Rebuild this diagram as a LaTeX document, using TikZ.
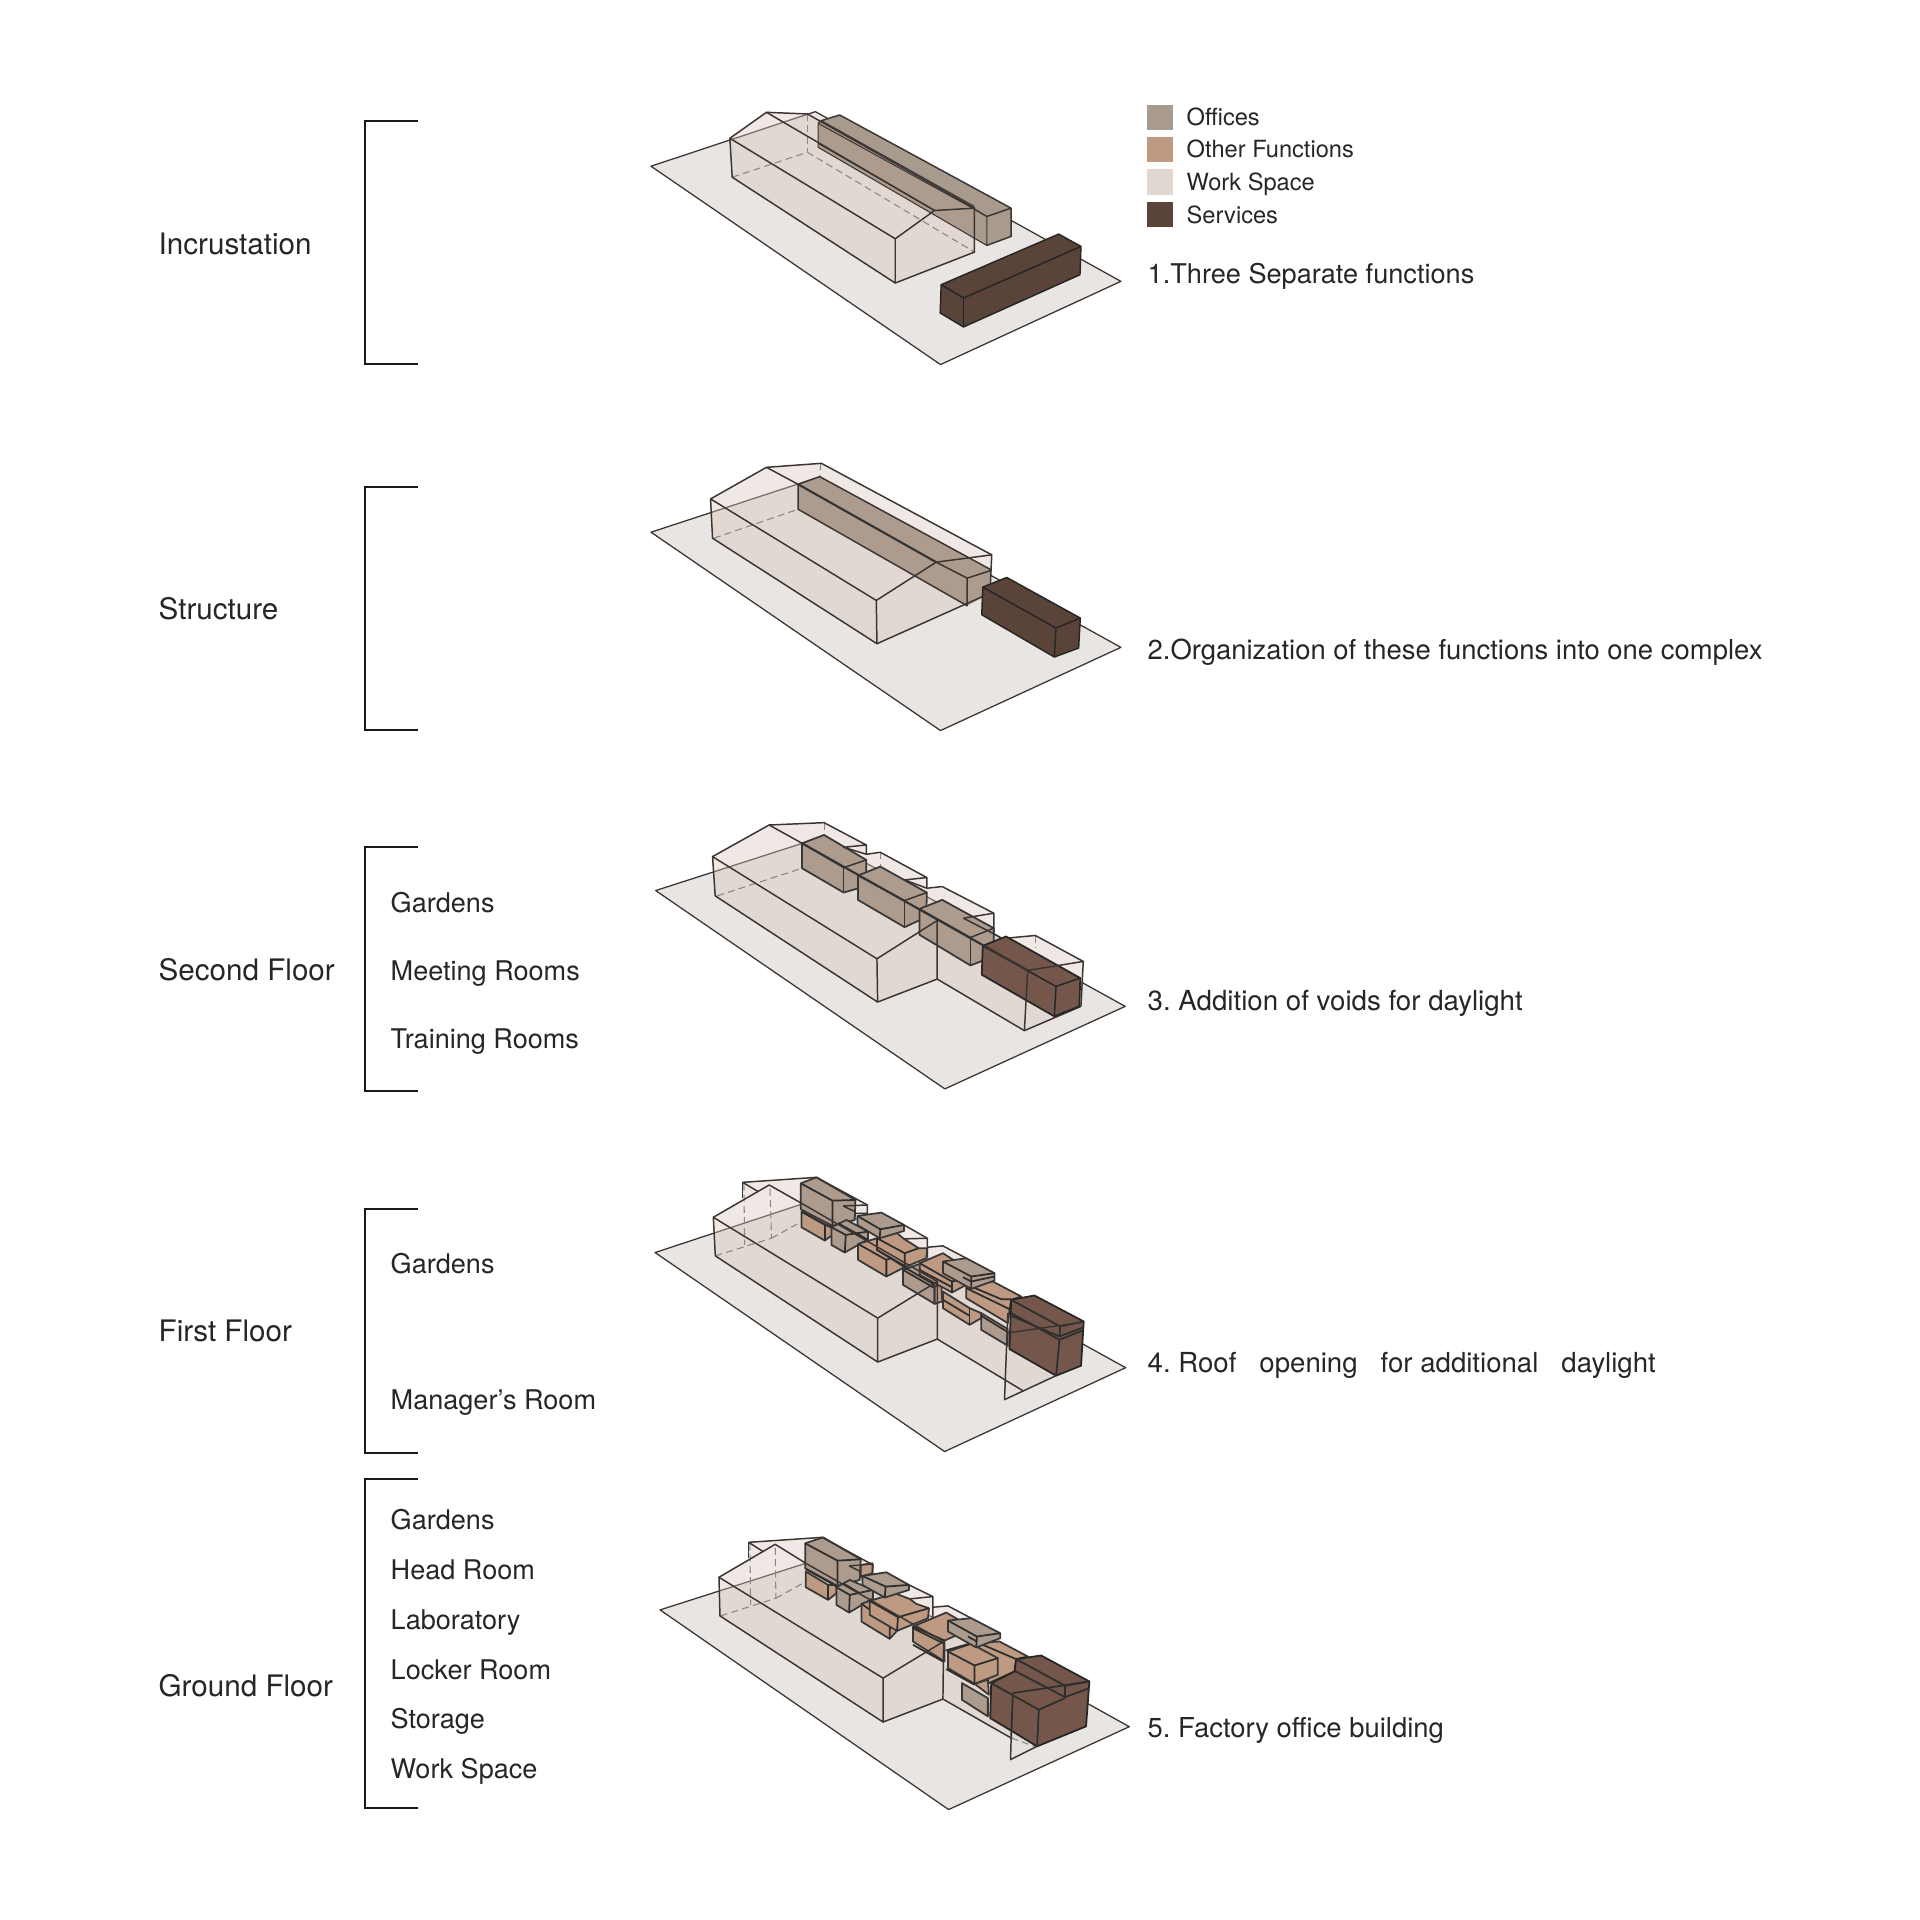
\documentclass[tikz,border=0pt]{standalone}
\usepackage{fontspec}
\setmainfont{TeX Gyre Heros}
\frenchspacing
\definecolor{ln}{HTML}{3A3533}
\definecolor{grd}{HTML}{E8E5E2}
\definecolor{wsp}{HTML}{D7C5BB}
\definecolor{wkey}{HTML}{E0D7D1}
\definecolor{ofc}{HTML}{A89B8E}
\definecolor{ofw}{HTML}{AD9B8D}
\definecolor{oth}{HTML}{BE9A82}
\definecolor{svc}{HTML}{5A4339}
\definecolor{svw}{HTML}{74574A}
\definecolor{txt}{HTML}{262626}
\tikzset{
  gnd/.style={fill=grd,draw=ln,line width=.36pt,line join=round},
  env/.style={fill=wsp,fill opacity=.4,draw=none},
  edge/.style={draw=ln,line width=.42pt,line join=round},
  fine/.style={draw=ln,line width=.3pt,line join=round},
  dk/.style={draw=black!82,line width=.5pt,line join=round},
  hid/.style={draw=ln!60,line width=.3pt,dashed,dash pattern=on 2pt off 1.2pt},
  heavy/.style={draw=black!80,line width=.6pt},
  ofb/.style={fill=ofw,draw=black!78,line width=.5pt,line join=round},
  otb/.style={fill=oth,draw=black!78,line width=.5pt,line join=round},
  svb/.style={fill=svc,draw=black!85,line width=.42pt,line join=round},
  swb/.style={fill=svw,draw=black!85,line width=.5pt,line join=round},
  brk/.style={draw=black!90,line width=.62pt,line cap=butt,line join=miter},
  ttl/.style={anchor=base west,inner sep=0,text=txt,font=\fontsize{8.42}{10}\selectfont},
  lab/.style={anchor=base west,inner sep=0,text=txt,font=\fontsize{7.7}{10}\selectfont},
  nte/.style={anchor=base west,inner sep=0,text=txt,font=\fontsize{7.8}{10}\selectfont},
  key/.style={anchor=base west,inner sep=0,text=txt,font=\fontsize{6.72}{9}\selectfont},
  zm/.style={x=0.0033333cm,y=-0.0033333cm},
}
\begin{document}
\begin{tikzpicture}[x=0.01cm,y=-0.01cm]
\useasboundingbox (0,0) rectangle (1920,1920);
% brackets
\draw[brk] (418,121) -- (365,121) -- (365,364) -- (418,364);
\draw[brk] (418,487) -- (365,487) -- (365,730) -- (418,730);
\draw[brk] (418,847) -- (365,847) -- (365,1091) -- (418,1091);
\draw[brk] (418,1209) -- (365,1209) -- (365,1453) -- (418,1453);
\draw[brk] (418,1479) -- (365,1479) -- (365,1808) -- (418,1808);
% titles
\node[ttl] (t1) at (158,254) {Incrustation};
\node[ttl] (t2) at (158,619) {Structure};
\node[ttl] (t3) at (158,980) {Second Floor};
\node[ttl] (t4) at (158,1341) {First Floor};
\node[ttl] (t5) at (158,1696) {Ground Floor};
% lists
\node[lab] (a1) at (390,912) {Gardens};
\node[lab] (a2) at (390,980) {Meeting Rooms};
\node[lab] (a3) at (390,1048) {Training Rooms};
\node[lab] (b1) at (390,1273) {Gardens};
\node[lab] (b2) at (390,1409) {Manager’s Room};
\node[lab] (c1) at (390,1529) {Gardens};
\node[lab] (c2) at (390,1579) {Head Room};
\node[lab] (c3) at (390,1629) {Laboratory};
\node[lab] (c4) at (390,1679) {Locker Room};
\node[lab] (c5) at (390,1728) {Storage};
\node[lab] (c6) at (390,1778) {Work Space};
% notes
\node[nte,font=\fontsize{7.72}{10}\selectfont] (n1) at (1147,283) {1.Three Separate functions};
\node[nte] (n2) at (1147,659) {2.Organization of these functions into one complex};
\node[nte,font=\fontsize{7.87}{10}\selectfont] (n3) at (1147,1010) {3. Addition of voids for daylight};
\node[nte,font=\fontsize{7.85}{10}\selectfont] (n4) at (1147,1372) {4. Roof\ \ \ opening\ \ \ for additional\ \ \ daylight};
\node[nte] (n5) at (1147,1737) {5. Factory office building};
% legend
\fill[ofc] (1147,105) rectangle (1173,130);
\fill[oth] (1147,137) rectangle (1173,162);
\fill[wkey] (1147,169) rectangle (1173,195);
\fill[svc] (1147,202) rectangle (1173,227);
\node[key] (k1) at (1186,125) {Offices};
\node[key] (k2) at (1186,157) {Other Functions};
\node[key] (k3) at (1186,190) {Work Space};
\node[key] (k4) at (1186,223) {Services};
% ---------- panel 1
\begin{scope}[shift={(640,90)},zm]
\draw[gnd] (33,229) -- (527,65) -- (1445,575) -- (903,825) -- cycle;
\fill[ofc] (535,95) -- (600,75) -- (1115,355) -- (1115,440) -- (1042,467) -- (535,172) -- cycle;
\fill[env] (270,145) -- (380,67) -- (503,72) -- (1005,355) -- (1005,487) -- (767,580) -- (277,262) -- cycle;
\begin{scope}
\clip (270,145) -- (380,67) -- (503,72) -- (1005,355) -- (1005,487) -- (767,580) -- (277,262) -- cycle;
\fill[ofw] (535,95) -- (600,75) -- (1115,355) -- (1115,440) -- (1042,467) -- (535,172) -- cycle;
\end{scope}
\draw[hid] (277,262) -- (503,187) -- (1005,487);
\draw[hid] (503,72) -- (503,187);
\draw[edge] (545,92) -- (600,75) -- (1115,355) -- (1042,380) -- (1005,358);
\draw[fine] (535,100) -- (545,92) -- (1005,350);
\draw[fine] (535,100) -- (1005,358);
\draw[fine] (535,100) -- (535,172) -- (1042,467) -- (1042,380);
\draw[fine] (535,160) -- (885,362);
\draw[edge] (1042,467) -- (1115,440) -- (1115,355);
\draw[edge] (270,145) -- (380,67) -- (503,72) -- (1005,355);
\draw[edge] (270,145) -- (277,262) -- (767,580) -- (767,447) -- cycle;
\draw[edge] (380,67) -- (885,362) -- (767,447);
\draw[edge] (885,362) -- (1005,355) -- (1005,487) -- (767,580);
\path[svb] (905,585) -- (1258,433) -- (1325,470) -- (1322,555) -- (972,712) -- (902,670) -- cycle;
\draw[edge,draw=black!85] (905,585) -- (972,625) -- (1325,470);
\draw[edge,draw=black!85] (972,625) -- (972,712);
\end{scope}
% ---------- panel 2
\begin{scope}[shift={(640,450)},zm]
\draw[gnd] (33,247) -- (527,85) -- (1445,593) -- (903,843) -- cycle;
\fill[env] (212,147) -- (380,52) -- (545,40) -- (1057,315) -- (1053,428) -- (712,582) -- (218,265) -- cycle;
\fill[ofw] (475,103) -- (540,80) -- (1055,360) -- (1053,430) -- (983,468) -- (475,178) -- cycle;
\draw[hid] (222,265) -- (475,178);
\draw[hid] (543,40) -- (540,80);
\draw[edge] (475,103) -- (475,178) -- (983,468) -- (983,385) -- (1055,362);
\draw[edge] (475,103) -- (540,80) -- (1055,360);
\draw[edge] (890,337) -- (983,385);
\draw[edge] (212,147) -- (380,52) -- (545,40) -- (1057,315) -- (1053,400);
\draw[edge] (212,147) -- (218,265) -- (712,582) -- (710,452) -- cycle;
\draw[edge] (380,52) -- (475,103);
\draw[edge] (890,337) -- (710,452);
\draw[edge] (890,337) -- (1057,315);
\draw[edge] (712,582) -- (1030,440);
\draw[heavy] (475,103) -- (890,337);
\path[svb] (1030,412) -- (1102,383) -- (1323,505) -- (1318,595) -- (1245,622) -- (1027,495) -- cycle;
\draw[edge,draw=black!85] (1030,412) -- (1250,535) -- (1323,505);
\draw[edge,draw=black!85] (1250,535) -- (1245,622);
\end{scope}
% ---------- panel 3
\begin{scope}[shift={(640,810)},zm]
\draw[gnd] (47,242) -- (541,83) -- (1458,590) -- (916,838) -- cycle;
\fill[env] (218,140) -- (388,45) -- (553,38) -- (680,105) -- (680,133) -- (722,127) -- (862,203) -- (862,235) -- (908,230) -- (1063,310) -- (1063,372) -- (1100,385) -- (1188,377) -- (1332,455) -- (1325,590) -- (1155,663) -- (893,508) -- (714,577) -- (226,258) -- cycle;
\draw[hid] (232,258) -- (487,175);
\draw[hid] (553,38) -- (553,75);
\draw[hid] (722,127) -- (722,170);
\draw[hid] (1188,377) -- (1188,415);
\path[ofb] (487,100) -- (553,75) -- (680,150) -- (680,228) -- (612,248) -- (487,175) -- cycle;
\draw[edge] (487,100) -- (612,173) -- (680,150);
\draw[edge] (612,173) -- (612,248);
\path[ofb] (655,197) -- (722,170) -- (862,248) -- (860,322) -- (795,352) -- (655,270) -- cycle;
\draw[edge] (655,197) -- (795,272) -- (862,248);
\draw[edge] (795,272) -- (795,352);
\path[ofb] (840,297) -- (908,270) -- (1063,355) -- (1063,440) -- (993,467) -- (840,375) -- cycle;
\draw[edge] (840,297) -- (993,383) -- (1063,355);
\draw[edge] (993,383) -- (993,467);
\draw[edge] (218,140) -- (388,45) -- (553,38) -- (680,105) -- (680,133) -- (612,112) -- (680,105);
\draw[edge] (680,133) -- (722,127) -- (862,203) -- (862,235) -- (795,210) -- (862,203);
\draw[edge] (862,235) -- (908,230) -- (1063,310) -- (1063,372);
\draw[edge] (972,325) -- (1063,310);
\draw[edge] (972,325) -- (1063,372) -- (1085,385);
\draw[edge] (218,140) -- (226,258) -- (714,577) -- (712,447) -- cycle;
\draw[edge] (712,447) -- (893,332) -- (893,508) -- (714,577);
\draw[edge] (893,508) -- (1155,663) -- (1325,590) -- (1332,455) -- (1188,377) -- (1100,385);
\path[swb] (1030,408) -- (1100,380) -- (1323,505) -- (1320,590) -- (1245,620) -- (1027,495) -- cycle;
\draw[edge,draw=black!85] (1030,408) -- (1250,530) -- (1323,505);
\draw[edge,draw=black!85] (1250,530) -- (1245,620);
\draw[edge] (1165,482) -- (1155,663);
\draw[edge] (1165,482) -- (1332,455);
\draw[edge] (388,45) -- (487,100);
\draw[heavy] (487,100) -- (1165,482);
\end{scope}
% ---------- panel 4
\begin{scope}[shift={(700,1170)},zm]
\draw[gnd] (-135,248) -- (359,85) -- (1279,594) -- (735,846) -- cycle;
\fill[env] (40,142) -- (128,90) -- (128,37) -- (350,22) -- (503,105) -- (503,130) -- (545,128) -- (683,205) -- (683,232) -- (730,228) -- (885,310) -- (885,335) -- (970,380) -- (1005,377) -- (1152,457) -- (1145,590) -- (1072,618) -- (970,663) -- (713,508) -- (534,577) -- (46,258) -- cycle;
\fill[wsp,fill opacity=.15] (918,630) -- (970,663) -- (915,690) -- cycle;
\draw[hid] (46,258) -- (215,205) -- (210,48);
\draw[hid] (132,40) -- (134,225);
\draw[hid] (215,205) -- (305,155);
% other functions A
\path[otb] (305,125) -- (375,165) -- (398,170) -- (398,195) -- (375,212) -- (305,172) -- cycle;
\draw[dk] (375,165) -- (375,212);
% office A
\path[ofb] (303,40) -- (350,22) -- (467,90) -- (465,150) -- (398,168) -- (303,118) -- cycle;
\draw[dk] (303,40) -- (398,92) -- (398,168);
\draw[dk] (398,92) -- (467,90);
\draw[dk] (305,125) -- (398,175);
% lower office
\path[ofb] (395,172) -- (440,150) -- (505,185) -- (505,208) -- (435,248) -- (395,225) -- cycle;
\draw[dk] (395,172) -- (438,195) -- (435,248);
\draw[dk] (438,195) -- (505,185);
\draw[dk] (415,160) -- (505,210);
% orange B
\path[otb] (475,222) -- (532,205) -- (615,250) -- (615,292) -- (560,320) -- (475,270) -- cycle;
\draw[dk] (475,222) -- (560,270) -- (560,320);
\draw[dk] (560,270) -- (615,250);
\path[otb] (532,205) -- (590,188) -- (613,207) -- (637,222) -- (657,235) -- (683,235) -- (680,265) -- (615,292) -- (532,240) -- cycle;
\draw[dk] (532,205) -- (615,250) -- (615,292);
\draw[dk] (615,250) -- (657,235);
\draw[dk] (532,205) -- (532,240) -- (615,288);
% office 2
\path[ofb] (473,138) -- (545,128) -- (613,165) -- (613,183) -- (540,205) -- (473,165) -- cycle;
\draw[dk] (473,138) -- (542,178) -- (540,205);
\draw[dk] (542,178) -- (613,165);
% office 3
\path[ofb] (610,300) -- (660,282) -- (705,350) -- (705,402) -- (610,345) -- cycle;
\draw[dk] (610,290) -- (705,345);
\draw[dk] (610,300) -- (705,355);
\path[otb] (705,350) -- (725,345) -- (728,395) -- (705,402) -- cycle;
% orange C
\path[otb] (660,280) -- (730,250) -- (800,295) -- (800,345) -- (757,368) -- (660,315) -- cycle;
\draw[dk] (660,280) -- (757,335) -- (757,368);
\draw[dk] (660,300) -- (757,352);
\draw[dk] (757,335) -- (800,325);
% orange D
\path[otb] (730,365) -- (810,415) -- (845,430) -- (845,445) -- (810,465) -- (730,415) -- cycle;
\draw[dk] (730,390) -- (810,438);
\draw[dk] (810,415) -- (810,465);
% orange E
\path[otb] (800,350) -- (880,335) -- (965,380) -- (935,390) -- (930,420) -- (925,460) -- (800,385) -- cycle;
\draw[dk] (800,355) -- (930,418);
\draw[dk] (815,350) -- (905,388) -- (935,388);
% office 4
\path[ofb] (730,275) -- (800,265) -- (885,310) -- (885,332) -- (815,357) -- (730,310) -- cycle;
\draw[dk] (730,275) -- (815,320) -- (815,357);
\draw[dk] (815,320) -- (885,310);
\draw[dk] (790,322) -- (815,335) -- (885,320);
% office 5
\path[ofb] (845,430) -- (925,478) -- (925,528) -- (845,480) -- cycle;
\draw[dk] (845,438) -- (925,487);
% services
\path[swb] (935,390) -- (1005,377) -- (1153,455) -- (1145,588) -- (1070,618) -- (930,538) -- cycle;
\draw[dk] (935,390) -- (1082,470) -- (1153,455);
\draw[dk] (1082,470) -- (1080,500) -- (1152,473);
\draw[dk] (935,430) -- (1080,510) -- (1150,482);
\draw[dk] (935,438) -- (1080,500);
\draw[dk] (1080,510) -- (1070,618);
% envelope lines
\draw[edge] (128,37) -- (128,85);
\draw[edge] (128,37) -- (175,65);
\draw[edge] (128,37) -- (350,22) -- (503,105) -- (503,130) -- (467,130);
\draw[edge] (430,108) -- (465,125);
\draw[edge] (430,108) -- (503,105);
\draw[edge] (40,142) -- (208,45) -- (305,100);
\draw[edge] (40,142) -- (46,258) -- (534,577) -- (534,445) -- cycle;
\draw[edge] (534,445) -- (713,335) -- (713,508) -- (534,577);
\draw[edge] (713,508) -- (970,663);
\draw[edge] (613,165) -- (683,205) -- (683,262);
\draw[edge] (613,207) -- (683,205);
\draw[edge] (683,232) -- (730,228) -- (800,265);
\draw[edge] (920,490) -- (1153,457);
\draw[edge] (925,430) -- (915,690) -- (1070,618);
\draw[edge] (305,100) -- (713,335);
\end{scope}
% ---------- panel 5
\begin{scope}[shift={(700,1530)},zm]
\draw[gnd] (-120,240) -- (374,82) -- (1290,591) -- (747,840) -- cycle;
\fill[env] (57,142) -- (146,90) -- (146,37) -- (367,22) -- (520,105) -- (520,130) -- (560,127) -- (700,200) -- (700,232) -- (745,228) -- (900,310) -- (900,335) -- (985,380) -- (1022,377) -- (1170,455) -- (1160,590) -- (1013,650) -- (935,625) -- (730,508) -- (550,577) -- (60,258) -- cycle;
\fill[wsp,fill opacity=.15] (936,625) -- (1013,650) -- (933,690) -- cycle;
\draw[hid] (62,258) -- (228,205) -- (226,45);
\draw[hid] (150,40) -- (152,225);
\draw[hid] (228,205) -- (318,155);
\draw[hid] (935,625) -- (1010,652);
% orange A
\path[otb] (318,125) -- (385,165) -- (410,165) -- (410,190) -- (385,210) -- (318,172) -- cycle;
\draw[dk] (385,165) -- (385,210);
% office A
\path[otb] (483,105) -- (518,100) -- (518,130) -- (483,140) -- cycle;
\path[ofb] (316,40) -- (370,22) -- (483,88) -- (480,150) -- (413,168) -- (316,115) -- cycle;
\draw[dk] (316,40) -- (413,92) -- (413,168);
\draw[dk] (413,92) -- (483,88);
\draw[dk] (318,118) -- (415,172);
% lower office
\path[ofb] (410,172) -- (450,150) -- (520,180) -- (520,205) -- (448,248) -- (410,225) -- cycle;
\draw[dk] (410,172) -- (450,195) -- (448,248);
\draw[dk] (450,195) -- (520,180);
\draw[dk] (430,160) -- (480,190);
% orange B
\path[otb] (485,222) -- (510,213) -- (592,262) -- (592,303) -- (570,327) -- (485,275) -- cycle;
\draw[dk] (485,222) -- (570,280) -- (570,327);
\draw[dk] (570,295) -- (640,275);
\path[otb] (510,213) -- (585,190) -- (630,207) -- (650,222) -- (688,235) -- (685,265) -- (592,303) -- (510,255) -- cycle;
\draw[dk] (510,213) -- (595,262) -- (592,303);
\draw[dk] (595,262) -- (688,235);
% office 2
\path[ofb] (488,138) -- (560,127) -- (628,165) -- (628,180) -- (555,203) -- (488,165) -- cycle;
\draw[dk] (488,138) -- (558,170) -- (555,203);
\draw[dk] (558,170) -- (628,165);
% orange C
\path[otb] (640,290) -- (740,248) -- (820,295) -- (735,332) -- (735,395) -- (640,335) -- cycle;
\draw[dk] (640,290) -- (735,332);
\draw[dk] (640,345) -- (730,395);
\draw[dk] (640,295) -- (730,340);
% orange F
\path[otb] (820,340) -- (900,335) -- (985,380) -- (950,388) -- (945,425) -- (868,460) -- (825,420) -- cycle;
\draw[dk] (850,345) -- (950,388);
% office 5
\path[ofb] (787,460) -- (865,505) -- (865,560) -- (787,510) -- cycle;
\path[otb] (825,462) -- (865,450) -- (868,495) -- cycle;
% orange E
\path[otb] (745,365) -- (815,342) -- (895,385) -- (895,435) -- (825,462) -- (745,415) -- cycle;
\draw[dk] (745,365) -- (825,407) -- (825,462);
\draw[dk] (825,407) -- (895,385);
\draw[dk] (740,418) -- (825,465);
\draw[dk] (738,362) -- (815,340);
% office 3
\path[ofb] (745,272) -- (815,265) -- (902,310) -- (902,325) -- (830,353) -- (745,305) -- cycle;
\draw[dk] (745,272) -- (832,320) -- (830,353);
\draw[dk] (832,320) -- (902,310);
\draw[dk] (805,320) -- (832,335);
% services
\path[swb] (950,388) -- (1025,377) -- (1170,455) -- (1160,590) -- (1013,650) -- (872,565) -- (875,460) -- (945,425) -- cycle;
\draw[dk] (950,388) -- (1097,468) -- (1170,455);
\draw[dk] (1097,468) -- (1097,502) -- (1170,475);
\draw[dk] (945,423) -- (1097,502);
\draw[dk] (875,460) -- (1018,540) -- (1013,650);
\draw[dk] (1018,540) -- (1097,505);
\draw[dk] (940,490) -- (1170,455);
\draw[dk] (940,495) -- (935,625);
% envelope lines
\draw[edge] (146,37) -- (146,85);
\draw[edge] (146,37) -- (190,65);
\draw[edge] (146,37) -- (367,22) -- (520,105) -- (518,130);
\draw[edge] (448,108) -- (483,125);
\draw[edge] (448,108) -- (518,102);
\draw[edge] (57,142) -- (226,43) -- (318,100);
\draw[edge] (57,142) -- (60,258) -- (550,577) -- (550,445) -- cycle;
\draw[edge] (550,445) -- (732,335) -- (730,508) -- (550,577);
\draw[edge] (730,508) -- (935,625);
\draw[edge] (628,165) -- (700,200) -- (700,262);
\draw[edge] (630,207) -- (700,200);
\draw[edge] (700,232) -- (745,228) -- (815,265);
\draw[edge] (935,625) -- (933,690) -- (1013,650);
\draw[edge] (318,100) -- (732,335);
\end{scope}
\end{tikzpicture}
\end{document}
